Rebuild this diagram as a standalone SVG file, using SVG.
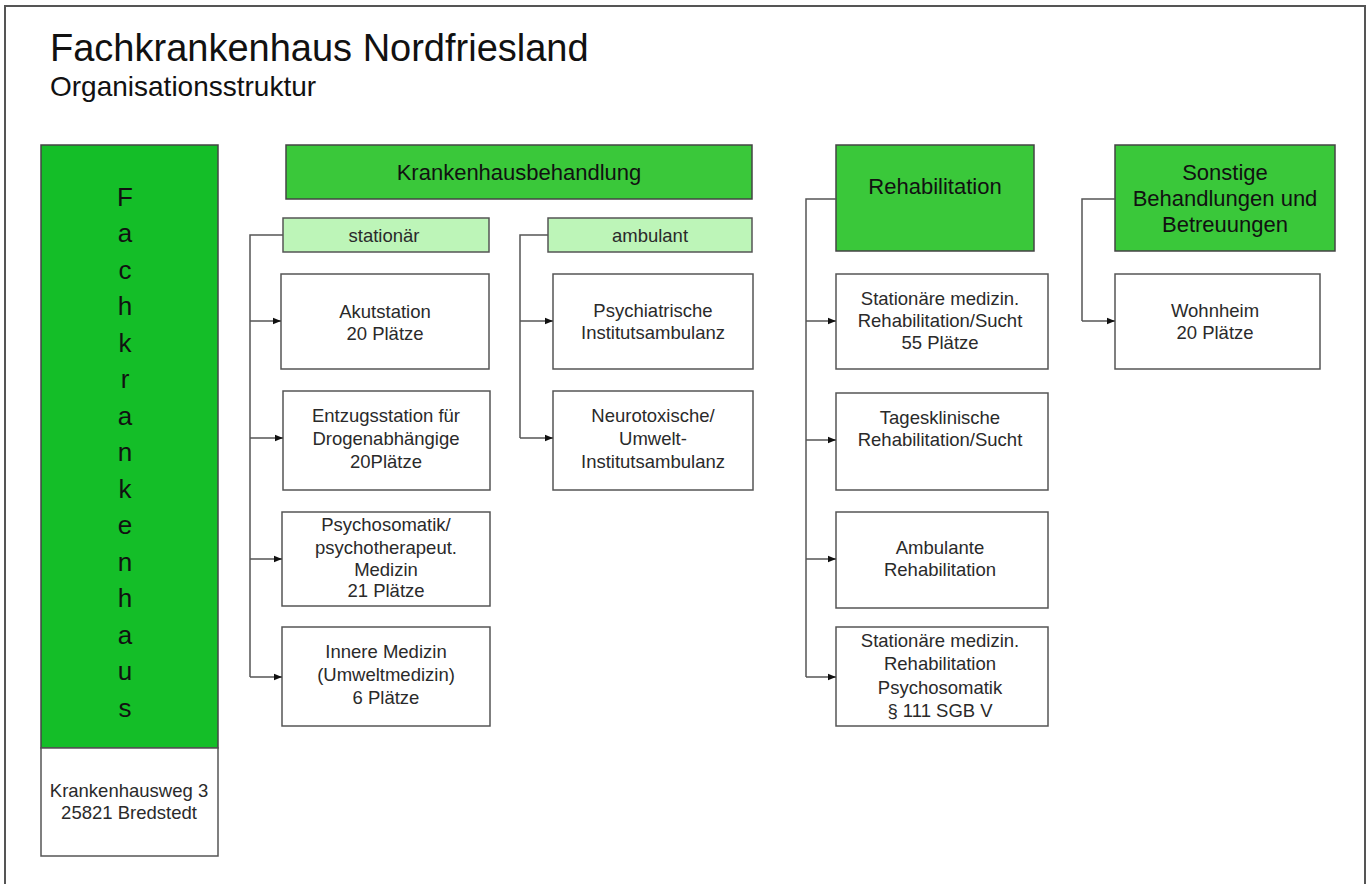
<svg xmlns="http://www.w3.org/2000/svg" width="1370" height="884" viewBox="0 0 1370 884">
<defs>
<marker id="arr" viewBox="0 0 10 10" refX="10" refY="5" markerWidth="8" markerHeight="8" markerUnits="userSpaceOnUse" orient="auto">
<path d="M0,1 L10,5 L0,9 Z" fill="#111"/>
</marker>
<style>
text{font-family:"Liberation Sans",Arial,sans-serif;fill:#2a2a2a;text-anchor:middle}
.box{fill:#fff;stroke:#555;stroke-width:1.5}
.hdr{fill:#3ac83a;stroke:#444;stroke-width:1.5}
.sub{fill:#bdf5b8;stroke:#555;stroke-width:1.5}
.t{font-size:18.5px}
.h{font-size:22px;fill:#111}
.v{font-size:26px;fill:#111}
.con{fill:none;stroke:#555;stroke-width:1.5}
</style>
</defs>
<rect x="0" y="0" width="1370" height="884" fill="#fff"/>
<rect x="5" y="6" width="1360" height="890" fill="#fff" stroke="#555" stroke-width="2"/>
<text x="50" y="61" style="font-size:38px;text-anchor:start;fill:#111">Fachkrankenhaus Nordfriesland</text>
<text x="50" y="96" style="font-size:28px;text-anchor:start;fill:#111">Organisationsstruktur</text>

<g id="fachkrankenhaus">
<rect x="41" y="145" width="177" height="603" fill="#14be28" stroke="#444" stroke-width="1.5"/>
<text class="v" x="125" y="206">F</text>
<text class="v" x="125" y="242">a</text>
<text class="v" x="125" y="279">c</text>
<text class="v" x="125" y="315">h</text>
<text class="v" x="125" y="352">k</text>
<text class="v" x="125" y="388">r</text>
<text class="v" x="125" y="425">a</text>
<text class="v" x="125" y="461">n</text>
<text class="v" x="125" y="498">k</text>
<text class="v" x="125" y="534">e</text>
<text class="v" x="125" y="571">n</text>
<text class="v" x="125" y="607">h</text>
<text class="v" x="125" y="644">a</text>
<text class="v" x="125" y="680">u</text>
<text class="v" x="125" y="717">s</text>
</g>
<g id="adresse">
<rect class="box" x="41" y="748" width="177" height="108"/>
<text class="t" x="129" y="797">Krankenhausweg 3</text>
<text class="t" x="129" y="819">25821 Bredstedt</text>
</g>

<g id="krankenhausbehandlung">
<rect class="hdr" x="286" y="145" width="466" height="54"/>
<text class="h" x="519" y="180">Krankenhausbehandlung</text>
</g>
<g id="stationaer">
<rect class="sub" x="283" y="218" width="206" height="34"/>
<text class="t" x="384" y="242">stationär</text>
</g>
<g id="ambulant">
<rect class="sub" x="548" y="218" width="204" height="34"/>
<text class="t" x="650" y="242">ambulant</text>
</g>
<g id="akutstation">
<rect class="box" x="281" y="274" width="208" height="95"/>
<text class="t" x="385" y="318">Akutstation</text>
<text class="t" x="385" y="340">20 Plätze</text>
</g>
<g id="entzugsstation">
<rect class="box" x="283" y="391" width="207" height="99"/>
<text class="t" x="386" y="422">Entzugsstation für</text>
<text class="t" x="386" y="445">Drogenabhängige</text>
<text class="t" x="386" y="468">20Plätze</text>
</g>
<g id="psychosomatik">
<rect class="box" x="282" y="512" width="208" height="94"/>
<text class="t" x="386" y="531">Psychosomatik/</text>
<text class="t" x="386" y="554">psychotherapeut.</text>
<text class="t" x="386" y="576">Medizin</text>
<text class="t" x="386" y="597">21 Plätze</text>
</g>
<g id="innere-medizin">
<rect class="box" x="282" y="627" width="208" height="99"/>
<text class="t" x="386" y="658">Innere Medizin</text>
<text class="t" x="386" y="681">(Umweltmedizin)</text>
<text class="t" x="386" y="704">6 Plätze</text>
</g>
<g id="psychiatrische">
<rect class="box" x="553" y="274" width="200" height="95"/>
<text class="t" x="653" y="317">Psychiatrische</text>
<text class="t" x="653" y="339">Institutsambulanz</text>
</g>
<g id="neurotoxische">
<rect class="box" x="553" y="391" width="200" height="99"/>
<text class="t" x="653" y="422">Neurotoxische/</text>
<text class="t" x="653" y="445">Umwelt-</text>
<text class="t" x="653" y="468">Institutsambulanz</text>
</g>

<g id="rehabilitation">
<rect class="hdr" x="836" y="145" width="198" height="106"/>
<text class="h" x="935" y="194">Rehabilitation</text>
</g>
<g id="stationaere-sucht">
<rect class="box" x="836" y="274" width="212" height="95"/>
<text class="t" x="940" y="305">Stationäre medizin.</text>
<text class="t" x="940" y="327">Rehabilitation/Sucht</text>
<text class="t" x="940" y="349">55 Plätze</text>
</g>
<g id="tagesklinische">
<rect class="box" x="836" y="393" width="212" height="97"/>
<text class="t" x="940" y="424">Tagesklinische</text>
<text class="t" x="940" y="446">Rehabilitation/Sucht</text>
</g>
<g id="ambulante-reha">
<rect class="box" x="836" y="512" width="212" height="96"/>
<text class="t" x="940" y="554">Ambulante</text>
<text class="t" x="940" y="576">Rehabilitation</text>
</g>
<g id="stationaere-psychosomatik">
<rect class="box" x="836" y="627" width="212" height="99"/>
<text class="t" x="940" y="647">Stationäre medizin.</text>
<text class="t" x="940" y="670">Rehabilitation</text>
<text class="t" x="940" y="694">Psychosomatik</text>
<text class="t" x="940" y="717">§ 111 SGB V</text>
</g>

<g id="sonstige">
<rect class="hdr" x="1115" y="145" width="220" height="106"/>
<text class="h" x="1225" y="180">Sonstige</text>
<text class="h" x="1225" y="206">Behandlungen und</text>
<text class="h" x="1225" y="232">Betreuungen</text>
</g>
<g id="wohnheim">
<rect class="box" x="1115" y="274" width="205" height="95"/>
<text class="t" x="1215" y="317">Wohnheim</text>
<text class="t" x="1215" y="339">20 Plätze</text>
</g>

<g id="connectors">
<path class="con" d="M283,235 H250 V677"/>
<line class="con" x1="250" y1="321" x2="281" y2="321" marker-end="url(#arr)"/>
<line class="con" x1="250" y1="438" x2="283" y2="438" marker-end="url(#arr)"/>
<line class="con" x1="250" y1="559" x2="282" y2="559" marker-end="url(#arr)"/>
<line class="con" x1="250" y1="677" x2="282" y2="677" marker-end="url(#arr)"/>
<path class="con" d="M548,235 H520 V438"/>
<line class="con" x1="520" y1="321" x2="553" y2="321" marker-end="url(#arr)"/>
<line class="con" x1="520" y1="438" x2="553" y2="438" marker-end="url(#arr)"/>
<path class="con" d="M836,199 H806 V677"/>
<line class="con" x1="806" y1="321" x2="836" y2="321" marker-end="url(#arr)"/>
<line class="con" x1="806" y1="440" x2="836" y2="440" marker-end="url(#arr)"/>
<line class="con" x1="806" y1="559" x2="836" y2="559" marker-end="url(#arr)"/>
<line class="con" x1="806" y1="677" x2="836" y2="677" marker-end="url(#arr)"/>
<path class="con" d="M1115,199 H1082 V321"/>
<line class="con" x1="1082" y1="321" x2="1115" y2="321" marker-end="url(#arr)"/>
</g>
</svg>
